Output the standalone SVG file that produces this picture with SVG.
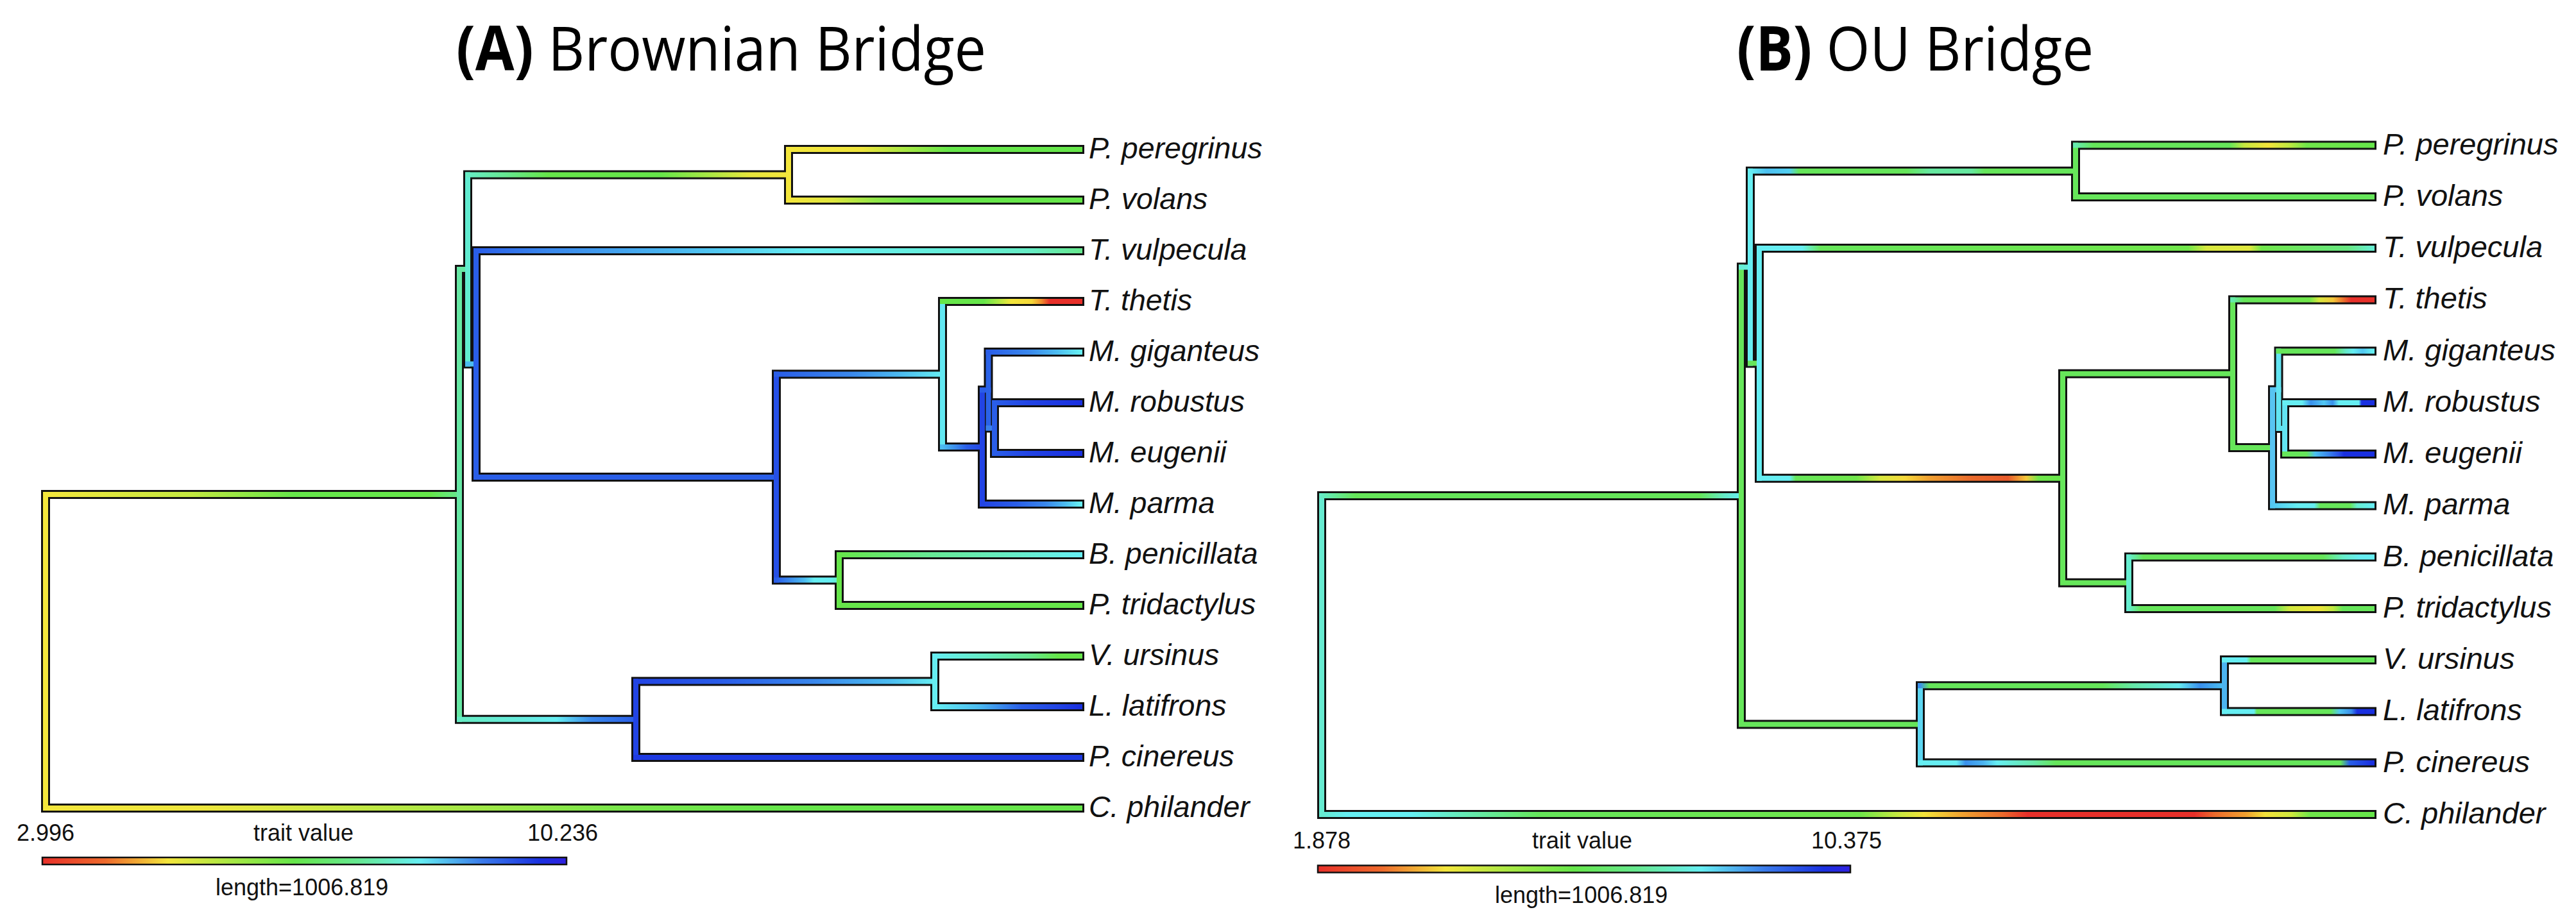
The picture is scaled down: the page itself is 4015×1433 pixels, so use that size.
<svg xmlns="http://www.w3.org/2000/svg" width="4015" height="1433" viewBox="0 0 4015 1433">
<style>
.bg{fill:#fff}
.ol{fill:none;stroke:#111;stroke-width:14;stroke-linecap:square}
.cl{fill:none;stroke-width:8;stroke-linecap:square}
.lab{font-family:"Liberation Sans",Arial,sans-serif;font-style:italic;font-size:46.5px;fill:#111}
.leg{font-family:"Liberation Sans",Arial,sans-serif;font-size:36px;fill:#111}
.title{font-family:"Open Sans","Liberation Sans",sans-serif;font-size:96px;fill:#000}
.bar{stroke:#111;stroke-width:2.5}
</style>
<defs>
<linearGradient id="cbar" x1="0" y1="0" x2="1" y2="0">
<stop offset="0" stop-color="#e8302a"/><stop offset="0.12" stop-color="#ee6a2c"/><stop offset="0.24" stop-color="#f3e63c"/><stop offset="0.36" stop-color="#a8e844"/><stop offset="0.48" stop-color="#66e64a"/><stop offset="0.6" stop-color="#66e890"/><stop offset="0.72" stop-color="#66eef2"/><stop offset="0.84" stop-color="#3a7aea"/><stop offset="0.95" stop-color="#1a30e0"/><stop offset="1" stop-color="#3020e0"/>
</linearGradient>
<!-- Panel A gradients -->
<linearGradient id="gA_r1" gradientUnits="userSpaceOnUse" x1="71" y1="0" x2="716" y2="0"><stop offset="0" stop-color="#f3e63c"/><stop offset="0.35" stop-color="#c4e840"/><stop offset="0.6" stop-color="#66e64a"/><stop offset="0.93" stop-color="#66e64a"/><stop offset="1" stop-color="#66e890"/></linearGradient>
<linearGradient id="gA_cp" gradientUnits="userSpaceOnUse" x1="71" y1="0" x2="1683" y2="0"><stop offset="0" stop-color="#f3e63c"/><stop offset="0.15" stop-color="#eee63c"/><stop offset="0.35" stop-color="#b4e844"/><stop offset="0.55" stop-color="#7ae64a"/><stop offset="0.7" stop-color="#66e64a"/><stop offset="1" stop-color="#66e64a"/></linearGradient>
<linearGradient id="gA_13" gradientUnits="userSpaceOnUse" x1="716" y1="0" x2="991" y2="0"><stop offset="0" stop-color="#66ecc4"/><stop offset="0.35" stop-color="#66eadc"/><stop offset="0.55" stop-color="#66eef2"/><stop offset="0.75" stop-color="#3a88ec"/><stop offset="1" stop-color="#2a5ee8"/></linearGradient>
<linearGradient id="gA_212" gradientUnits="userSpaceOnUse" x1="729" y1="0" x2="1229" y2="0"><stop offset="0" stop-color="#66ecc4"/><stop offset="0.12" stop-color="#66e890"/><stop offset="0.25" stop-color="#66e64a"/><stop offset="0.6" stop-color="#66e64a"/><stop offset="0.75" stop-color="#a8e844"/><stop offset="0.88" stop-color="#e8e63c"/><stop offset="1" stop-color="#f3e63c"/></linearGradient>
<linearGradient id="gA_per" gradientUnits="userSpaceOnUse" x1="1229" y1="0" x2="1683" y2="0"><stop offset="0" stop-color="#f3e63c"/><stop offset="0.25" stop-color="#eee43c"/><stop offset="0.4" stop-color="#a8e844"/><stop offset="0.55" stop-color="#66e64a"/><stop offset="1" stop-color="#66e64a"/></linearGradient>
<linearGradient id="gA_vol" gradientUnits="userSpaceOnUse" x1="1229" y1="0" x2="1683" y2="0"><stop offset="0" stop-color="#f3e63c"/><stop offset="0.15" stop-color="#e0e63e"/><stop offset="0.3" stop-color="#90e648"/><stop offset="0.45" stop-color="#66e64a"/><stop offset="1" stop-color="#66e64a"/></linearGradient>
<linearGradient id="gA_tv" gradientUnits="userSpaceOnUse" x1="742" y1="0" x2="1683" y2="0"><stop offset="0" stop-color="#2a5ee8"/><stop offset="0.12" stop-color="#3a88ec"/><stop offset="0.35" stop-color="#4cbcf0"/><stop offset="0.55" stop-color="#66eef2"/><stop offset="0.8" stop-color="#66eed8"/><stop offset="0.92" stop-color="#66ecc4"/><stop offset="1" stop-color="#66e890"/></linearGradient>
<linearGradient id="gA_56" gradientUnits="userSpaceOnUse" x1="1210" y1="0" x2="1469" y2="0"><stop offset="0" stop-color="#2a5ee8"/><stop offset="0.45" stop-color="#3a88ec"/><stop offset="0.75" stop-color="#4cbcf0"/><stop offset="1" stop-color="#66eef2"/></linearGradient>
<linearGradient id="gA_tt" gradientUnits="userSpaceOnUse" x1="1469" y1="0" x2="1683" y2="0"><stop offset="0" stop-color="#66e64a"/><stop offset="0.3" stop-color="#66e64a"/><stop offset="0.4" stop-color="#a8e844"/><stop offset="0.5" stop-color="#f3e63c"/><stop offset="0.65" stop-color="#f5d83a"/><stop offset="0.72" stop-color="#f0902e"/><stop offset="0.78" stop-color="#e8302a"/><stop offset="1" stop-color="#e8302a"/></linearGradient>
<linearGradient id="gA_68" gradientUnits="userSpaceOnUse" x1="1469" y1="0" x2="1531" y2="0"><stop offset="0" stop-color="#4cbcf0"/><stop offset="0.35" stop-color="#3a88ec"/><stop offset="0.6" stop-color="#2a5ee8"/><stop offset="1" stop-color="#2244e4"/></linearGradient>
<linearGradient id="gA_mp" gradientUnits="userSpaceOnUse" x1="1531" y1="0" x2="1683" y2="0"><stop offset="0" stop-color="#2244e4"/><stop offset="0.35" stop-color="#2a5ee8"/><stop offset="0.65" stop-color="#3a88ec"/><stop offset="0.85" stop-color="#4cbcf0"/><stop offset="1" stop-color="#66eef2"/></linearGradient>
<linearGradient id="gA_gig" gradientUnits="userSpaceOnUse" x1="1540" y1="0" x2="1683" y2="0"><stop offset="0" stop-color="#2a5ee8"/><stop offset="0.45" stop-color="#3a88ec"/><stop offset="0.75" stop-color="#4cbcf0"/><stop offset="1" stop-color="#66eef2"/></linearGradient>
<linearGradient id="gA_rob" gradientUnits="userSpaceOnUse" x1="1550" y1="0" x2="1683" y2="0"><stop offset="0" stop-color="#2a5ee8"/><stop offset="0.4" stop-color="#2244e4"/><stop offset="1" stop-color="#1a30e0"/></linearGradient>
<linearGradient id="gA_57" gradientUnits="userSpaceOnUse" x1="1210" y1="0" x2="1308" y2="0"><stop offset="0" stop-color="#2a5ee8"/><stop offset="0.2" stop-color="#3a88ec"/><stop offset="0.45" stop-color="#4cbcf0"/><stop offset="0.6" stop-color="#66eef2"/><stop offset="0.85" stop-color="#66eef2"/><stop offset="1" stop-color="#66ecc4"/></linearGradient>
<linearGradient id="gA_bp" gradientUnits="userSpaceOnUse" x1="1308" y1="0" x2="1683" y2="0"><stop offset="0" stop-color="#66e64a"/><stop offset="0.35" stop-color="#66e890"/><stop offset="0.7" stop-color="#66ecc4"/><stop offset="1" stop-color="#66eef2"/></linearGradient>
<linearGradient id="gA_311" gradientUnits="userSpaceOnUse" x1="991" y1="0" x2="1457" y2="0"><stop offset="0" stop-color="#2244e4"/><stop offset="0.3" stop-color="#2a5ee8"/><stop offset="0.6" stop-color="#3a88ec"/><stop offset="0.85" stop-color="#4cbcf0"/><stop offset="1" stop-color="#66eef2"/></linearGradient>
<linearGradient id="gA_vu" gradientUnits="userSpaceOnUse" x1="1457" y1="0" x2="1683" y2="0"><stop offset="0" stop-color="#66eef2"/><stop offset="0.35" stop-color="#66ecc4"/><stop offset="0.65" stop-color="#66e890"/><stop offset="0.85" stop-color="#66e64a"/><stop offset="1" stop-color="#66e64a"/></linearGradient>
<linearGradient id="gA_ll" gradientUnits="userSpaceOnUse" x1="1457" y1="0" x2="1683" y2="0"><stop offset="0" stop-color="#66eef2"/><stop offset="0.3" stop-color="#4cbcf0"/><stop offset="0.6" stop-color="#2a5ee8"/><stop offset="0.85" stop-color="#2244e4"/><stop offset="1" stop-color="#1a30e0"/></linearGradient>
<!-- Panel B gradients -->
<linearGradient id="gB_r1" gradientUnits="userSpaceOnUse" x1="2060" y1="0" x2="2714" y2="0"><stop offset="0" stop-color="#66ecc4"/><stop offset="0.08" stop-color="#66e65a"/><stop offset="0.9" stop-color="#66e65a"/><stop offset="0.96" stop-color="#66eac8"/><stop offset="1" stop-color="#66eef2"/></linearGradient>
<linearGradient id="gB_cp" gradientUnits="userSpaceOnUse" x1="2060" y1="0" x2="3697" y2="0"><stop offset="0" stop-color="#66ead0"/><stop offset="0.024" stop-color="#66eef2"/><stop offset="0.085" stop-color="#66eef2"/><stop offset="0.147" stop-color="#66eaa8"/><stop offset="0.208" stop-color="#66e65a"/><stop offset="0.513" stop-color="#70e64a"/><stop offset="0.55" stop-color="#c8e840"/><stop offset="0.574" stop-color="#f3e23a"/><stop offset="0.611" stop-color="#f0a030"/><stop offset="0.648" stop-color="#ea6a2c"/><stop offset="0.672" stop-color="#e8302a"/><stop offset="0.831" stop-color="#e8302a"/><stop offset="0.85" stop-color="#ec6a2c"/><stop offset="0.88" stop-color="#f0a030"/><stop offset="0.898" stop-color="#f3e03a"/><stop offset="0.923" stop-color="#d0e83e"/><stop offset="0.941" stop-color="#70e64a"/><stop offset="1" stop-color="#66e64a"/></linearGradient>
<linearGradient id="gB_212" gradientUnits="userSpaceOnUse" x1="2728" y1="0" x2="3235" y2="0"><stop offset="0" stop-color="#66eef2"/><stop offset="0.05" stop-color="#4cc0f0"/><stop offset="0.12" stop-color="#52d0f2"/><stop offset="0.15" stop-color="#66e65a"/><stop offset="0.48" stop-color="#66e65a"/><stop offset="0.55" stop-color="#66e8a0"/><stop offset="0.68" stop-color="#66e8a0"/><stop offset="0.72" stop-color="#66e65a"/><stop offset="1" stop-color="#66e65a"/></linearGradient>
<linearGradient id="gB_per" gradientUnits="userSpaceOnUse" x1="3235" y1="0" x2="3697" y2="0"><stop offset="0" stop-color="#66eab0"/><stop offset="0.06" stop-color="#66e65a"/><stop offset="0.52" stop-color="#66e65a"/><stop offset="0.57" stop-color="#c8e840"/><stop offset="0.65" stop-color="#f3e43a"/><stop offset="0.72" stop-color="#c0e840"/><stop offset="0.78" stop-color="#70e64a"/><stop offset="1" stop-color="#66e64a"/></linearGradient>
<linearGradient id="gB_tv" gradientUnits="userSpaceOnUse" x1="2742" y1="0" x2="3697" y2="0"><stop offset="0" stop-color="#66eef2"/><stop offset="0.07" stop-color="#66eef2"/><stop offset="0.1" stop-color="#66e65a"/><stop offset="0.7" stop-color="#70e64a"/><stop offset="0.73" stop-color="#d8e83e"/><stop offset="0.8" stop-color="#e0e83e"/><stop offset="0.82" stop-color="#70e64a"/><stop offset="0.96" stop-color="#66e680"/><stop offset="1" stop-color="#66eed0"/></linearGradient>
<linearGradient id="gB_45" gradientUnits="userSpaceOnUse" x1="2742" y1="0" x2="3215" y2="0"><stop offset="0" stop-color="#66eef2"/><stop offset="0.1" stop-color="#66eef2"/><stop offset="0.12" stop-color="#66e65a"/><stop offset="0.32" stop-color="#70e64a"/><stop offset="0.4" stop-color="#d8e83e"/><stop offset="0.48" stop-color="#f5d83a"/><stop offset="0.56" stop-color="#f0a030"/><stop offset="0.7" stop-color="#ea6a2c"/><stop offset="0.82" stop-color="#e85a2a"/><stop offset="0.88" stop-color="#f5c83a"/><stop offset="0.92" stop-color="#70e64a"/><stop offset="1" stop-color="#66e64a"/></linearGradient>
<linearGradient id="gB_tt" gradientUnits="userSpaceOnUse" x1="3480" y1="0" x2="3697" y2="0"><stop offset="0" stop-color="#66eab0"/><stop offset="0.08" stop-color="#66e65a"/><stop offset="0.55" stop-color="#70e64a"/><stop offset="0.62" stop-color="#d8e83e"/><stop offset="0.72" stop-color="#f5c83a"/><stop offset="0.8" stop-color="#ec6a2c"/><stop offset="0.85" stop-color="#e8302a"/><stop offset="1" stop-color="#e8302a"/></linearGradient>
<linearGradient id="gB_gig" gradientUnits="userSpaceOnUse" x1="3551" y1="0" x2="3697" y2="0"><stop offset="0" stop-color="#66e65a"/><stop offset="0.6" stop-color="#66e65a"/><stop offset="0.72" stop-color="#66e8c8"/><stop offset="0.8" stop-color="#66eef2"/><stop offset="0.9" stop-color="#52c8f2"/><stop offset="1" stop-color="#66eef2"/></linearGradient>
<linearGradient id="gB_rob" gradientUnits="userSpaceOnUse" x1="3561" y1="0" x2="3697" y2="0"><stop offset="0" stop-color="#66eef2"/><stop offset="0.2" stop-color="#66eef2"/><stop offset="0.3" stop-color="#3a90ec"/><stop offset="0.45" stop-color="#52c8f2"/><stop offset="0.55" stop-color="#3a90ec"/><stop offset="0.62" stop-color="#66eef2"/><stop offset="0.85" stop-color="#66eef2"/><stop offset="0.88" stop-color="#1a30e0"/><stop offset="1" stop-color="#1a30e0"/></linearGradient>
<linearGradient id="gB_eug" gradientUnits="userSpaceOnUse" x1="3561" y1="0" x2="3697" y2="0"><stop offset="0" stop-color="#66e65a"/><stop offset="0.25" stop-color="#66e65a"/><stop offset="0.35" stop-color="#4cc0f0"/><stop offset="0.5" stop-color="#3a86ec"/><stop offset="0.62" stop-color="#2a50e6"/><stop offset="0.68" stop-color="#1a30e0"/><stop offset="1" stop-color="#1a30e0"/></linearGradient>
<linearGradient id="gB_mp" gradientUnits="userSpaceOnUse" x1="3542" y1="0" x2="3697" y2="0"><stop offset="0" stop-color="#52c8f2"/><stop offset="0.25" stop-color="#66eef2"/><stop offset="0.42" stop-color="#66eef2"/><stop offset="0.48" stop-color="#66e65a"/><stop offset="0.78" stop-color="#66e65a"/><stop offset="0.85" stop-color="#66eed0"/><stop offset="1" stop-color="#66eef2"/></linearGradient>
<linearGradient id="gB_bp" gradientUnits="userSpaceOnUse" x1="3318" y1="0" x2="3697" y2="0"><stop offset="0" stop-color="#66eed0"/><stop offset="0.06" stop-color="#66e65a"/><stop offset="0.8" stop-color="#66e65a"/><stop offset="0.88" stop-color="#66eec8"/><stop offset="0.95" stop-color="#66eef2"/><stop offset="1" stop-color="#66eef2"/></linearGradient>
<linearGradient id="gB_pt" gradientUnits="userSpaceOnUse" x1="3318" y1="0" x2="3697" y2="0"><stop offset="0" stop-color="#66eed0"/><stop offset="0.05" stop-color="#66e65a"/><stop offset="0.6" stop-color="#66e65a"/><stop offset="0.66" stop-color="#d0e83e"/><stop offset="0.78" stop-color="#f0e43a"/><stop offset="0.84" stop-color="#c0e840"/><stop offset="0.88" stop-color="#66e65a"/><stop offset="1" stop-color="#66e65a"/></linearGradient>
<linearGradient id="gB_311" gradientUnits="userSpaceOnUse" x1="2993" y1="0" x2="3467" y2="0"><stop offset="0" stop-color="#3a90ec"/><stop offset="0.03" stop-color="#66e65a"/><stop offset="0.6" stop-color="#66e65a"/><stop offset="0.7" stop-color="#66e8a8"/><stop offset="0.85" stop-color="#66eaf0"/><stop offset="0.92" stop-color="#3a90ec"/><stop offset="1" stop-color="#4cc0f0"/></linearGradient>
<linearGradient id="gB_vu" gradientUnits="userSpaceOnUse" x1="3467" y1="0" x2="3697" y2="0"><stop offset="0" stop-color="#66eef2"/><stop offset="0.15" stop-color="#66eef2"/><stop offset="0.18" stop-color="#66e65a"/><stop offset="1" stop-color="#66e65a"/></linearGradient>
<linearGradient id="gB_ll" gradientUnits="userSpaceOnUse" x1="3467" y1="0" x2="3697" y2="0"><stop offset="0" stop-color="#66eef2"/><stop offset="0.2" stop-color="#66eef2"/><stop offset="0.22" stop-color="#66e65a"/><stop offset="0.72" stop-color="#66e65a"/><stop offset="0.78" stop-color="#52c8f2"/><stop offset="0.86" stop-color="#3a90ec"/><stop offset="0.9" stop-color="#1a30e0"/><stop offset="1" stop-color="#1a30e0"/></linearGradient>
<linearGradient id="gB_pc" gradientUnits="userSpaceOnUse" x1="2993" y1="0" x2="3697" y2="0"><stop offset="0" stop-color="#66eef2"/><stop offset="0.08" stop-color="#66eef2"/><stop offset="0.1" stop-color="#3a90ec"/><stop offset="0.14" stop-color="#4cb4f0"/><stop offset="0.17" stop-color="#66eef2"/><stop offset="0.25" stop-color="#66e8a8"/><stop offset="0.3" stop-color="#66e65a"/><stop offset="0.93" stop-color="#66e65a"/><stop offset="0.95" stop-color="#2a60e8"/><stop offset="1" stop-color="#1a30e0"/></linearGradient>
</defs>
<rect class="bg" x="0" y="0" width="4015" height="1433"/>

<g id="title-A"><text class="title" x="711" y="110" textLength="826" lengthAdjust="spacingAndGlyphs"><tspan font-weight="bold">(A)</tspan> Brownian Bridge</text></g>
<g id="title-B"><text class="title" x="2707" y="110" textLength="556" lengthAdjust="spacingAndGlyphs"><tspan font-weight="bold">(B)</tspan> OU Bridge</text></g>

<g id="connectors">
<g id="outline-A">
<path class="ol" d="M71,771V1260 M71,771H716 M71,1260H1683 M716,420V1121.75 M716,420H729 M716,1121.75H991 M729,272.5V567.5 M729,272.5H1229 M729,567.5H742 M1229,233V312 M1229,233H1683 M1229,312H1683 M742,391V744 M742,391H1683 M742,744H1210 M1210,583.6V904.5 M1210,583.6H1469 M1210,904.5H1308 M1469,470V697.1 M1469,470H1683 M1469,697.1H1531 M1531,608.25V786 M1531,608.25H1540.5 M1531,786H1683 M1540.5,549V667.5 M1540.5,549H1683 M1540.5,667.5H1550 M1550,628V707 M1550,628H1683 M1550,707H1683 M1308,865V944 M1308,865H1683 M1308,944H1683 M991,1062.5V1181 M991,1062.5H1457 M991,1181H1683 M1457,1023V1102 M1457,1023H1683 M1457,1102H1683"/>
</g>
<g id="outline-B">
<path class="ol" d="M2060,773V1269.9 M2060,773H2714 M2060,1269.9H3697 M2714,416.6V1129.4 M2714,416.6H2728 M2714,1129.4H2993 M2728,266.75V566.4 M2728,266.75H3235 M2728,566.4H2742 M3235,226.6V306.9 M3235,226.6H3697 M3235,306.9H3697 M2742,387.1V745.8 M2742,387.1H3697 M2742,745.8H3215 M3215,582.8V908.8 M3215,582.8H3480 M3215,908.8H3318 M3480,467.4V698.1 M3480,467.4H3697 M3480,698.1H3542 M3542,607.8V788.4 M3542,607.8H3551.5 M3542,788.4H3697 M3551.5,547.6V668 M3551.5,547.6H3697 M3551.5,668H3561 M3561,627.9V708.1 M3561,627.9H3697 M3561,708.1H3697 M3318,868.6V948.9 M3318,868.6H3697 M3318,948.9H3697 M2993,1069.3V1189.6 M2993,1069.3H3467 M2993,1189.6H3697 M3467,1029.1V1109.4 M3467,1029.1H3697 M3467,1109.4H3697"/>
</g>
<g id="branches-A">
<path class="cl" stroke="#f3e63c" d="M71,771V1260"/>
<path class="cl" stroke="url(#gA_r1)" d="M71,771H716"/>
<path class="cl" stroke="url(#gA_cp)" d="M71,1260H1683"/>
<path class="cl" stroke="#66e8a4" d="M716,420V1121.75 M716,420H729"/>
<path class="cl" stroke="url(#gA_13)" d="M716,1121.75H991"/>
<path class="cl" stroke="#62ecd0" d="M729,272.5V567.5"/>
<path class="cl" stroke="url(#gA_212)" d="M729,272.5H1229"/>
<path class="cl" stroke="#4cbcf0" d="M729,567.5H742"/>
<path class="cl" stroke="#f3e63c" d="M1229,233V312"/>
<path class="cl" stroke="url(#gA_per)" d="M1229,233H1683"/>
<path class="cl" stroke="url(#gA_vol)" d="M1229,312H1683"/>
<path class="cl" stroke="#2a5ee8" d="M742,391V744 M742,744H1210"/>
<path class="cl" stroke="url(#gA_tv)" d="M742,391H1683"/>
<path class="cl" stroke="#2650e6" d="M1210,583.6V904.5"/>
<path class="cl" stroke="url(#gA_56)" d="M1210,583.6H1469"/>
<path class="cl" stroke="url(#gA_57)" d="M1210,904.5H1308"/>
<path class="cl" stroke="#62e8f2" d="M1469,470V697.1"/>
<path class="cl" stroke="url(#gA_tt)" d="M1469,470H1683"/>
<path class="cl" stroke="url(#gA_68)" d="M1469,697.1H1531"/>
<path class="cl" stroke="#2244e4" d="M1531,608.25V786"/>
<path class="cl" stroke="#2a5ee8" d="M1531,608.25H1540.5"/>
<path class="cl" stroke="url(#gA_mp)" d="M1531,786H1683"/>
<path class="cl" stroke="#2a62e8" d="M1540.5,549V667.5"/>
<path class="cl" stroke="url(#gA_gig)" d="M1540.5,549H1683"/>
<path class="cl" stroke="#3a80ea" d="M1540.5,667.5H1550"/>
<path class="cl" stroke="#2a5ee8" d="M1550,628V707"/>
<path class="cl" stroke="url(#gA_rob)" d="M1550,628H1683 M1550,707H1683"/>
<path class="cl" stroke="#66e64a" d="M1308,865V944 M1308,944H1683"/>
<path class="cl" stroke="url(#gA_bp)" d="M1308,865H1683"/>
<path class="cl" stroke="#2244e4" d="M991,1062.5V1181"/>
<path class="cl" stroke="url(#gA_311)" d="M991,1062.5H1457"/>
<path class="cl" stroke="#1e3ae2" d="M991,1181H1683"/>
<path class="cl" stroke="#66eef2" d="M1457,1023V1102"/>
<path class="cl" stroke="url(#gA_vu)" d="M1457,1023H1683"/>
<path class="cl" stroke="url(#gA_ll)" d="M1457,1102H1683"/>
</g>
<g id="branches-B">
<path class="cl" stroke="#66ead0" d="M2060,773V1269.9"/>
<path class="cl" stroke="url(#gB_r1)" d="M2060,773H2714"/>
<path class="cl" stroke="url(#gB_cp)" d="M2060,1269.9H3697"/>
<path class="cl" stroke="#66e65a" d="M2714,416.6V1129.4 M2714,1129.4H2993"/>
<path class="cl" stroke="#66eed8" d="M2714,416.6H2728"/>
<path class="cl" stroke="#66eef2" d="M2728,266.75V566.4"/>
<path class="cl" stroke="url(#gB_212)" d="M2728,266.75H3235"/>
<path class="cl" stroke="#66e65a" d="M2728,566.4H2742"/>
<path class="cl" stroke="#66e65a" d="M3235,226.6V306.9 M3235,306.9H3697"/>
<path class="cl" stroke="url(#gB_per)" d="M3235,226.6H3697"/>
<path class="cl" stroke="#66eef2" d="M2742,387.1V745.8"/>
<path class="cl" stroke="url(#gB_tv)" d="M2742,387.1H3697"/>
<path class="cl" stroke="url(#gB_45)" d="M2742,745.8H3215"/>
<path class="cl" stroke="#66e65a" d="M3215,582.8V908.8 M3215,582.8H3480 M3215,908.8H3318 M3480,467.4V698.1 M3480,698.1H3542"/>
<path class="cl" stroke="url(#gB_tt)" d="M3480,467.4H3697"/>
<path class="cl" stroke="#58c4f2" d="M3542,607.8V788.4 M3542,607.8H3551.5"/>
<path class="cl" stroke="url(#gB_mp)" d="M3542,788.4H3697"/>
<path class="cl" stroke="#62e4f2" d="M3551.5,547.6V668 M3551.5,668H3561 M3561,627.9V708.1"/>
<path class="cl" stroke="url(#gB_gig)" d="M3551.5,547.6H3697"/>
<path class="cl" stroke="url(#gB_rob)" d="M3561,627.9H3697"/>
<path class="cl" stroke="url(#gB_eug)" d="M3561,708.1H3697"/>
<path class="cl" stroke="#66eed0" d="M3318,868.6V948.9"/>
<path class="cl" stroke="url(#gB_bp)" d="M3318,868.6H3697"/>
<path class="cl" stroke="url(#gB_pt)" d="M3318,948.9H3697"/>
<path class="cl" stroke="#5cd6f2" d="M2993,1069.3V1189.6"/>
<path class="cl" stroke="url(#gB_311)" d="M2993,1069.3H3467"/>
<path class="cl" stroke="url(#gB_pc)" d="M2993,1189.6H3697"/>
<path class="cl" stroke="#4cb4f0" d="M3467,1029.1V1109.4"/>
<path class="cl" stroke="url(#gB_vu)" d="M3467,1029.1H3697"/>
<path class="cl" stroke="url(#gB_ll)" d="M3467,1109.4H3697"/>
</g>
</g>

<g id="tips-A" class="lab">
<g id="A-P-peregrinus"><text x="1697" y="247">P. peregrinus</text></g>
<g id="A-P-volans"><text x="1697" y="326">P. volans</text></g>
<g id="A-T-vulpecula"><text x="1697" y="405">T. vulpecula</text></g>
<g id="A-T-thetis"><text x="1697" y="484">T. thetis</text></g>
<g id="A-M-giganteus"><text x="1697" y="563">M. giganteus</text></g>
<g id="A-M-robustus"><text x="1697" y="642">M. robustus</text></g>
<g id="A-M-eugenii"><text x="1697" y="721">M. eugenii</text></g>
<g id="A-M-parma"><text x="1697" y="800">M. parma</text></g>
<g id="A-B-penicillata"><text x="1697" y="879">B. penicillata</text></g>
<g id="A-P-tridactylus"><text x="1697" y="958">P. tridactylus</text></g>
<g id="A-V-ursinus"><text x="1697" y="1037">V. ursinus</text></g>
<g id="A-L-latifrons"><text x="1697" y="1116">L. latifrons</text></g>
<g id="A-P-cinereus"><text x="1697" y="1195">P. cinereus</text></g>
<g id="A-C-philander"><text x="1697" y="1274">C. philander</text></g>
</g>
<g id="tips-B" class="lab" style="font-size:47px">
<g id="B-P-peregrinus"><text x="3714" y="240.6">P. peregrinus</text></g>
<g id="B-P-volans"><text x="3714" y="320.9">P. volans</text></g>
<g id="B-T-vulpecula"><text x="3714" y="401.1">T. vulpecula</text></g>
<g id="B-T-thetis"><text x="3714" y="481.4">T. thetis</text></g>
<g id="B-M-giganteus"><text x="3714" y="561.6">M. giganteus</text></g>
<g id="B-M-robustus"><text x="3714" y="641.9">M. robustus</text></g>
<g id="B-M-eugenii"><text x="3714" y="722.1">M. eugenii</text></g>
<g id="B-M-parma"><text x="3714" y="802.4">M. parma</text></g>
<g id="B-B-penicillata"><text x="3714" y="882.6">B. penicillata</text></g>
<g id="B-P-tridactylus"><text x="3714" y="962.9">P. tridactylus</text></g>
<g id="B-V-ursinus"><text x="3714" y="1043.1">V. ursinus</text></g>
<g id="B-L-latifrons"><text x="3714" y="1123.4">L. latifrons</text></g>
<g id="B-P-cinereus"><text x="3714" y="1203.6">P. cinereus</text></g>
<g id="B-C-philander"><text x="3714" y="1283.9">C. philander</text></g>
</g>

<g id="legend-A">
<text class="leg" x="26" y="1311">2.996</text>
<text class="leg" x="395" y="1311">trait value</text>
<text class="leg" x="822" y="1311">10.236</text>
<rect class="bar" x="66" y="1337" width="817" height="11" fill="url(#cbar)"/>
<text class="leg" x="336" y="1396">length=1006.819</text>
</g>
<g id="legend-B">
<text class="leg" x="2015" y="1323">1.878</text>
<text class="leg" x="2388" y="1323">trait value</text>
<text class="leg" x="2823" y="1323">10.375</text>
<rect class="bar" x="2054" y="1349.5" width="830" height="11" fill="url(#cbar)"/>
<text class="leg" x="2330" y="1408">length=1006.819</text>
</g>
</svg>
